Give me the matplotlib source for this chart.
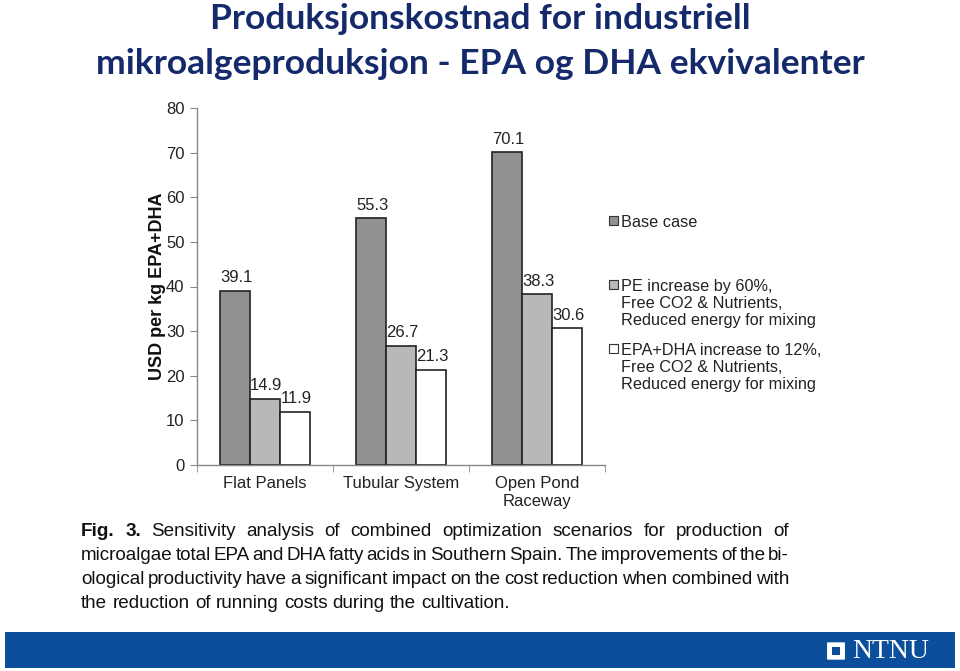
import numpy as np
import matplotlib.pyplot as plt
from matplotlib.patches import Rectangle, FancyBboxPatch

# Daten
categories = ["Flat Panels", "Tubular System", "Open Pond\nRaceway"]
base_case = [39.1, 55.3, 70.1]
pe_increase = [14.9, 26.7, 38.3]
epa_increase = [11.9, 21.3, 30.6]
series_labels = [
    "Base case",
    "PE increase by 60%,\nFree CO2 & Nutrients,\nReduced energy for mixing",
    "EPA+DHA increase to 12%,\nFree CO2 & Nutrients,\nReduced energy for mixing",
]
series_colors = ["#909193", "#b7b8ba", "#ffffff"]
yticks = [0, 10, 20, 30, 40, 50, 60, 70, 80]

title = "Produksjonskostnad for industriell\nmikroalgeproduksjon - EPA og DHA ekvivalenter"
caption_lines = [
    "Fig. 3. Sensitivity analysis of combined optimization scenarios for production of",
    "microalgae total EPA and DHA fatty acids in Southern Spain. The improvements of the bi-",
    "ological productivity have a significant impact on the cost reduction when combined with",
    "the reduction of running costs during the cultivation.",
]

W, H = 960, 671
fig = plt.figure(figsize=(W / 100, H / 100), dpi=100)


def fx(px):
    return px / W


def fy(py):
    return 1 - py / H


ax = fig.add_axes([fx(197), fy(465), fx(605) - fx(197), fy(108) - fy(465)])

x = np.arange(len(categories))
bw = 0.222
all_series = [base_case, pe_increase, epa_increase]
for i, vals in enumerate(all_series):
    xs = x + (i - 1) * bw
    ax.bar(xs, vals, width=bw, color=series_colors[i], edgecolor="#222222",
           linewidth=1.2, zorder=2)
    for xi, v in zip(xs, vals):
        ax.annotate(f"{v:.1f}", (xi, v), xytext=(1, 4), textcoords="offset points",
                    ha="center", va="bottom", fontsize=12, color="#222222",
                    family="Liberation Sans")

ax.set_xlim(-0.5, 2.5)
ax.set_ylim(0, 80)
ax.set_yticks(yticks)
ax.set_yticklabels([str(t) for t in yticks], fontsize=12, color="#222222",
                   family="Liberation Sans")
ax.set_xticks(x)
ax.set_xticklabels(categories, fontsize=12, color="#222222", family="Liberation Sans",
                   linespacing=1.25)
ax.set_xticks([-0.5, 0.5, 1.5, 2.5], minor=True)
ax.tick_params(axis="x", which="major", length=0, pad=8)
ax.tick_params(axis="x", which="minor", length=5, color="#888888", direction="out")
ax.tick_params(axis="y", length=5, color="#888888", direction="out", pad=4)
for s in ["top", "right"]:
    ax.spines[s].set_visible(False)
for s in ["left", "bottom"]:
    ax.spines[s].set_color("#888888")
    ax.spines[s].set_linewidth(1.0)

ax.set_ylabel("USD per kg EPA+DHA", fontsize=13, fontweight="bold", color="#111111",
              family="Liberation Sans", labelpad=0)

# Legende
legend_tops = [221, 285, 349]
for lab, col, ty in zip(series_labels, series_colors, legend_tops):
    fig.patches.append(Rectangle((fx(609), fy(ty + 4)), fx(9), 9 / H, transform=fig.transFigure,
                                 facecolor=col, edgecolor="#333333", linewidth=0.8))
    fig.text(fx(621), fy(ty - 6), lab, fontsize=11.7, color="#222222", family="Liberation Sans",
             ha="left", va="top", linespacing=1.17)

# Titel
fig.text(0.5, fy(41.5), title, ha="center", va="center", fontsize=25.5, fontweight="bold",
         color="#142a6b", family="Lato", linespacing=1.47)

# Bildunterschrift, Blocksatz
cap_font = "Liberation Sans"
cap_size = 13.6
cap_left, cap_right = 81, 789
renderer = fig.canvas.get_renderer()
for k, line in enumerate(caption_lines):
    yy = fy(536 + 24 * k)
    words = line.split(" ")
    texts = []
    for j, w in enumerate(words):
        bold = (k == 0 and j < 2)
        t = fig.text(0, yy, w, fontsize=cap_size, family=cap_font, va="baseline", ha="left",
                     fontweight="bold" if bold else "normal", color="#111111")
        texts.append(t)
    widths = [t.get_window_extent(renderer).width for t in texts]
    if k < len(caption_lines) - 1:
        gap = (cap_right - cap_left - sum(widths)) / (len(words) - 1)
    else:
        gap = renderer.points_to_pixels(cap_size) * 0.28
    pos = cap_left
    for t, wdt in zip(texts, widths):
        t.set_x(fx(pos))
        pos += wdt + gap

# Fusszeile
fig.patches.append(Rectangle((fx(5), fy(668)), fx(950), 36 / H, transform=fig.transFigure,
                             facecolor="#0b4f9c", edgecolor="none"))
fig.patches.append(FancyBboxPatch((fx(828), fy(659)), fx(16), 16 / H,
                                  boxstyle="round,pad=0.001", transform=fig.transFigure,
                                  facecolor="white", edgecolor="none"))
fig.patches.append(Rectangle((fx(832), fy(655)), fx(8), 8 / H, transform=fig.transFigure,
                             facecolor="#0b4f9c", edgecolor="none"))
fig.text(fx(891), fy(651), "NTNU", fontsize=20, color="white", family="Liberation Serif",
         ha="center", va="center")

fig.savefig("out.png", dpi=100)
